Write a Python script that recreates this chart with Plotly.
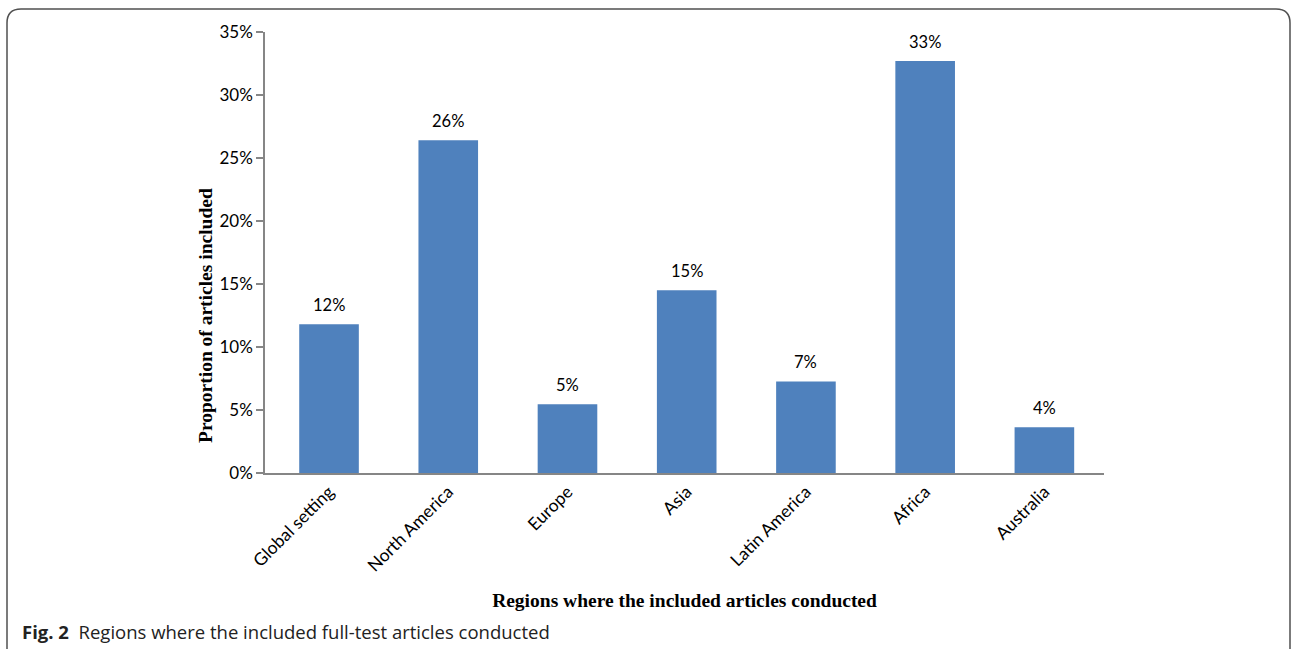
import plotly.graph_objects as go

regions = ["Global setting", "North America", "Europe", "Asia", "Latin America", "Africa", "Australia"]
proportions = [11.8, 26.4, 5.45, 14.5, 7.27, 32.7, 3.64]
bar_labels = ["12%", "26%", "5%", "15%", "7%", "33%", "4%"]
y_ticks = [0, 5, 10, 15, 20, 25, 30, 35]
y_tick_labels = ["0%", "5%", "10%", "15%", "20%", "25%", "30%", "35%"]

W, H = 1292, 649
L, R, T, B = 265, 1104, 32, 473
pw, ph = R - L, B - T
SANS = "Lato, Open Sans, sans-serif"
SERIF = "Liberation Serif, Times New Roman, serif"

def px(x):
    return (x - L) / pw

def py(y):
    return (B - y) / ph

fig = go.Figure()
fig.add_trace(go.Bar(
    x=regions, y=proportions,
    marker=dict(color="#4F81BD", line=dict(width=0)),
    width=0.5,
))

for reg, val, lab in zip(regions, proportions, bar_labels):
    fig.add_annotation(x=reg, y=val, text=lab, showarrow=False, yanchor="bottom",
                       yshift=7, font=dict(family=SANS, size=16.5, color="#000000"))

# y axis title (placed as in the original, below the plot centre)
fig.add_annotation(
    text="<b>Proportion of articles included</b>", textangle=-90,
    xref="paper", yref="paper", x=px(205), y=py(316), xanchor="center", yanchor="middle",
    showarrow=False, font=dict(family=SERIF, size=19.5, color="#000000"))

# rounded outer frame (open at bottom)
x0, x1, y0, y1, r = 7, 1290, 9, 660, 14
path = (f"M {px(x0)},{py(y1)} L {px(x0)},{py(y0 + r)} "
        f"Q {px(x0)},{py(y0)} {px(x0 + r)},{py(y0)} "
        f"L {px(x1 - r)},{py(y0)} Q {px(x1)},{py(y0)} {px(x1)},{py(y0 + r)} "
        f"L {px(x1)},{py(y1)}")
fig.add_shape(type="path", path=path, xref="paper", yref="paper",
              line=dict(color="#505050", width=1.5))

fig.add_annotation(
    text="<b>Fig. 2</b>  Regions where the included full-test articles conducted",
    xref="paper", yref="paper", x=px(20), y=py(631), xanchor="left", yanchor="middle",
    showarrow=False, font=dict(family="Open Sans, sans-serif", size=18.5, color="#222222"))

fig.update_layout(
    width=W, height=H,
    margin=dict(l=L, r=W - R, t=T, b=H - B, pad=0),
    plot_bgcolor="white", paper_bgcolor="white",
    showlegend=False,
    font=dict(family=SANS, size=16, color="#000000"),
)
fig.update_yaxes(
    range=[0, 35], tickvals=y_ticks, ticktext=y_tick_labels,
    showgrid=False, zeroline=False, showline=True, linecolor="#868686", linewidth=1.5,
    ticks="outside", ticklen=7, tickcolor="#868686", tickwidth=1.5,
    tickfont=dict(family=SANS, size=17, color="#000000"),
)
fig.update_xaxes(
    range=[-0.537, 6.5],
    showgrid=False, showline=True, linecolor="#868686", linewidth=1.5,
    ticks="", tickangle=-45, tickfont=dict(family=SANS, size=17.5, color="#000000"),
    title=dict(text="<b>Regions where the included articles conducted</b>",
               font=dict(family=SERIF, size=19.5, color="#000000"),
               standoff=19),
)

fig.write_html("out.html")
